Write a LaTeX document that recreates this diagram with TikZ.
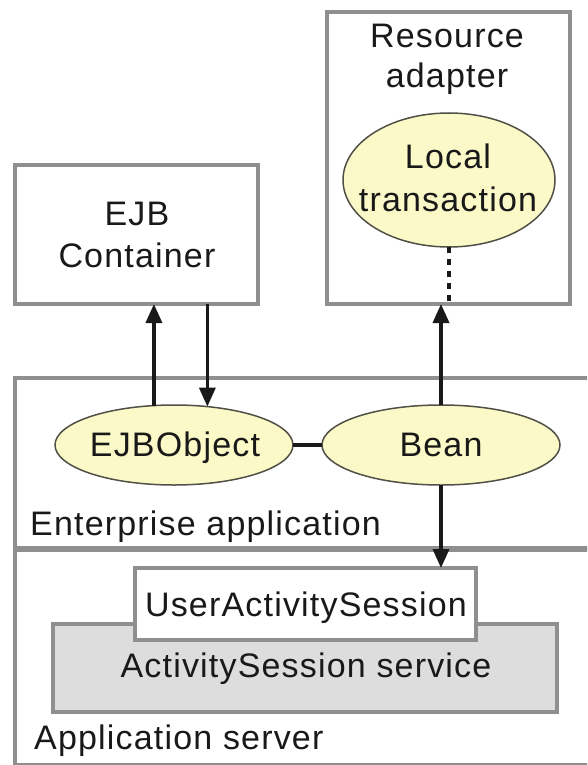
\documentclass[tikz,border=0pt]{standalone}
\usepackage{fontspec}
\setmainfont{Liberation Sans}[LetterSpace=3.5]
\usetikzlibrary{arrows.meta,shapes.geometric}
\definecolor{boxgray}{RGB}{143,143,143}
\definecolor{ovalfill}{RGB}{251,249,199}
\definecolor{ovalline}{RGB}{80,80,70}
\definecolor{svcfill}{RGB}{221,221,221}
\definecolor{ink}{RGB}{25,25,25}
\begin{document}
\begin{tikzpicture}[x=1pt,y=-1pt,
  every node/.style={text=ink, font=\fontsize{34}{40}\selectfont},
  frame/.style={draw=boxgray, line width=4pt, rectangle, inner sep=0pt, outer sep=0pt},
  oval/.style={ellipse, draw=ovalline, fill=ovalfill, line width=1.5pt, inner sep=0pt, outer sep=0pt},
  caption/.style={inner sep=0pt, align=center},
  arr/.style={draw=ink, line width=3.5pt, -{Triangle[length=19pt,width=16pt]}},
  link/.style={draw=ink, line width=4pt},
  dots/.style={draw=ink, line width=3.5pt, dash pattern=on 6pt off 6pt}
]
\useasboundingbox (0,0) rectangle (587,765);
\clip (0,0) rectangle (587,765);

% layers of the server
\node[frame, minimum width=640pt, minimum height=215pt, anchor=north west] (appsrv) at (15,550) {};
\node[frame, minimum width=640pt, minimum height=170pt, anchor=north west] (entapp) at (15,378) {};
\node[inner sep=0pt, anchor=base west] (appsrvtext) at (34,749) {Application server};
\node[inner sep=0pt, anchor=base west] (entapptext) at (30,535) {Enterprise application};

% ActivitySession service with its UserActivitySession interface
\node[frame, fill=svcfill, minimum width=504pt, minimum height=88pt] (svc) at (305,668) {};
\node[inner sep=0pt, anchor=base] (svctext) at (306,677) {ActivitySession service};
\node[frame, fill=white, minimum width=341pt, minimum height=72pt] (uas) at (305.5,604) {};
\node[inner sep=0pt, anchor=base] (uastext) at (306,616) {UserActivitySession};

% EJB container
\node[frame, minimum width=243pt, minimum height=139pt] (ejb) at (136.5,234.5) {};
\node[caption, font=\fontsize{34}{42}\selectfont] (ejbtext) at (137,234.8) {EJB\\Container};

% resource adapter with its local transaction
\node[frame, minimum width=243pt, minimum height=292pt] (ra) at (448.5,158) {};
\node[caption, font=\fontsize{34}{40}\selectfont] (ratext) at (447,59) {Resource\\adapter};
\node[oval, minimum width=212pt, minimum height=134pt] (lt) at (449,180) {};
\node[caption, font=\fontsize{34}{43}\selectfont] (lttext) at (448,178) {Local\\transaction};

% application components
\node[oval, minimum width=238pt, minimum height=80pt] (eo) at (174,445) {};
\node[inner sep=0pt, anchor=base] (eotext) at (175,456) {EJBObject};
\node[oval, minimum width=238pt, minimum height=80pt] (bean) at (441,445) {};
\node[inner sep=0pt, anchor=base] (beantext) at (441,456) {Bean};

% connectors
\draw[link] (eo.east) -- (bean.west);
\draw[arr] (eo.117) -- (eo.117 |- ejb.south);
\draw[arr] (ejb.south -| eo.49) -- (eo.49);
\draw[arr] (bean.north) -- (bean.north |- ra.south);
\draw[arr] (bean.south) -- (bean.south |- uas.north);
\draw[dots] (lt.south) -- (lt.south |- ra.south);
\end{tikzpicture}
\end{document}
